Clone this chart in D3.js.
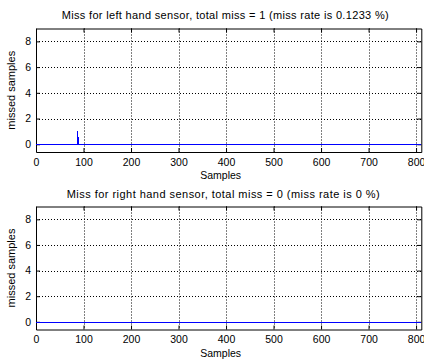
<!DOCTYPE html>
<html><head><meta charset="utf-8">
<script src="https://cdn.jsdelivr.net/npm/d3@7"></script>
<style>body{margin:0;background:#fff}svg{display:block}text{font-family:Arial,"Liberation Sans",sans-serif;fill:#000}</style>
</head><body><svg id="c" width="424" height="362"></svg>
<script>
const titles = ["Miss for left hand sensor, total miss = 1 (miss rate is 0.1233 %)",
                "Miss for right hand sensor, total miss = 0 (miss rate is 0 %)"];
const xTicks = [0,100,200,300,400,500,600,700,800];
const yTicks = [0,2,4,6,8];
const xDomain = [0, 811];
const yDomain = [-0.6, 9];
// key points of the miss series (sample index, missed samples)
const leftSamples  = [1, 87, 88, 89, 811];
const leftMisses   = [0, 0, 1, 0, 0];
const rightSamples = [1, 811];
const rightMisses  = [0, 0];
const series = [[leftSamples, leftMisses],[rightSamples, rightMisses]];

const svg = d3.select("#c");
const panels = [
  {top:28.5, bottom:152, titleY:19, titleX:225.2, titleW:327},
  {top:206.5, bottom:329.5, titleY:197.5, titleX:223.2, titleW:313}
];
const L = 36, R = 421.3;
panels.forEach((p, i) => {
  const x = d3.scaleLinear().domain(xDomain).range([L, R]);
  const y = d3.scaleLinear().domain(yDomain).range([p.bottom, p.top]);
  const g = svg.append("g");
  // grid
  g.selectAll(".gx").data(xTicks.filter(t=>t>0)).enter().append("line")
    .attr("x1", d=>Math.round(x(d))+0.5).attr("x2", d=>Math.round(x(d))+0.5)
    .attr("y1", p.top).attr("y2", p.bottom)
    .attr("stroke","#000").attr("stroke-width",1).attr("stroke-dasharray","1,2");
  g.selectAll(".gy").data(yTicks.filter(t=>t>0)).enter().append("line")
    .attr("y1", d=>Math.round(y(d))+0.5).attr("y2", d=>Math.round(y(d))+0.5)
    .attr("x1", L).attr("x2", R)
    .attr("stroke","#000").attr("stroke-width",1).attr("stroke-dasharray","1,2");
  // axes with inside ticks
  const ax = d3.axisBottom(x).tickValues(xTicks).tickSizeInner(-4).tickSizeOuter(0).tickPadding(6);
  const axT = d3.axisTop(x).tickValues(xTicks).tickSizeInner(-4).tickSizeOuter(0).tickFormat("");
  const ay = d3.axisLeft(y).tickValues(yTicks).tickSizeInner(-4).tickSizeOuter(0).tickPadding(5);
  const ayR = d3.axisRight(y).tickValues(yTicks).tickSizeInner(-4).tickSizeOuter(0).tickFormat("");
  const gb = g.append("g").attr("transform",`translate(0,${p.bottom})`).call(ax);
  const gt = g.append("g").attr("transform",`translate(0,${p.top})`).call(axT);
  const gl = g.append("g").attr("transform",`translate(${L},0)`).call(ay);
  const gr = g.append("g").attr("transform",`translate(${R},0)`).call(ayR);
  [gb,gt,gl,gr].forEach(a=>{
    a.selectAll("path").attr("stroke","#000");
    a.selectAll("line").attr("stroke","#000");
    a.selectAll("text").style("font-family","Arial, 'Liberation Sans', sans-serif").style("font-size","10.5px").attr("fill","#000");
  });
  gb.selectAll("text").attr("dy",null).attr("y",null)
    .attr("transform","translate(0,13.5)");
  // data line (drawn above grid and ticks)
  const [xs, ys] = series[i];
  const pts = xs.map((v,k)=>[v, ys[k]]);
  g.append("path").datum(pts)
    .attr("d", d3.line().x(d=>x(d[0])).y(d=>Math.round(y(d[1]))+0.5))
    .attr("fill","none").attr("stroke","#0000ff").attr("stroke-width",1)
    .attr("shape-rendering","crispEdges");
  // labels
  g.append("text").attr("x",p.titleX).attr("y",p.titleY).attr("text-anchor","middle")
    .attr("textLength",p.titleW).attr("lengthAdjust","spacing")
    .style("font-size","11px").text(titles[i]);
  g.append("text").attr("x",220.7).attr("y",p.bottom+27).attr("text-anchor","middle")
    .style("font-size","10.5px").text("Samples");
  g.append("text").attr("transform",`translate(14.5,${(p.top+p.bottom)/2}) rotate(-90)`)
    .attr("text-anchor","middle").style("font-size","11px").text("missed samples");
});
</script></body></html>
